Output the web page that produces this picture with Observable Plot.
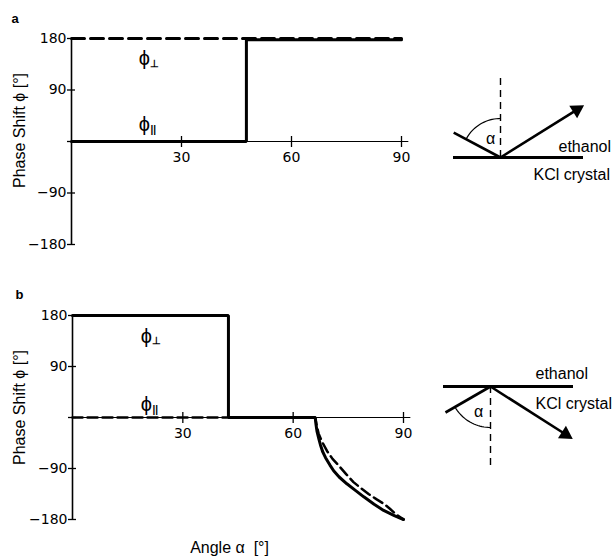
<!DOCTYPE html>
<html><head><meta charset="utf-8">
<script src="https://cdn.jsdelivr.net/npm/d3@7"></script>
<script src="https://cdn.jsdelivr.net/npm/@observablehq/plot@0.6"></script>
<style>
body{margin:0;background:#fff;}
#root{position:relative;width:612px;height:556px;overflow:hidden;background:#fff;}
#root svg{position:absolute;background:transparent;}
</style></head><body><div id="root"></div>
<script>
// ---------- data ----------
const xTicks = [30, 60, 90];
const yTicks = [180, 90, 0, -90, -180];
const yTickLabels = ["180", "90", "", "\u221290", "\u2212180"];

// panel a
const aPerpAlpha = [0, 90];
const aPerpPhi = [180, 180];
const aParAlpha = [0, 47.7, 47.7, 90];
const aParPhi = [0, 0, 178, 178];

// panel b
const bPerpAlpha = [0, 42.4, 42.4, 66.0, 66.2, 66.5, 67.0, 67.4, 68.0, 68.8, 70.0, 71.0, 72.5, 74.6, 77.0, 79.2, 82.0, 84.6, 87.5, 90];
const bPerpPhi   = [180, 180, 0, 0, -12, -25, -38, -48, -60, -71, -84, -94, -105, -117, -129, -140, -153, -164, -173, -180];
const bParAlpha  = [0, 66.0, 66.4, 66.9, 67.8, 69.2, 70.7, 72.4, 74.4, 76.4, 78.5, 80.5, 82.6, 84.6, 86.3, 87.8, 90];
const bParPhi    = [0, 0, -14, -28, -42, -59, -73, -85, -100, -114, -125, -135, -144, -152, -161, -170, -180];

// curve labels: [alpha, phi]
const labelNames = ["\u22A5", "||"];
const aLabelAlpha = [19.9, 19.9];
const aLabelPhi = [145, 30];
const bLabelAlpha = [20.1, 20.1];
const bLabelPhi = [143.5, 22.6];

const yTitle = "Phase Shift \u03D5 [\u00B0]";
const xTitle = "Angle \u03B1\u00A0 [\u00B0]";

// ---------- helpers ----------
const SANS = "'Liberation Sans', Arial, Helvetica, sans-serif";
const TICKF = "'DejaVu Sans', sans-serif";
const root = document.getElementById("root");

function axisMarks() {
  return [
    Plot.ruleY([0], {x1: 0, x2: 92, stroke: "#000", strokeWidth: 1}),
    Plot.ruleX([0], {y1: -180, y2: 180, stroke: "#000", strokeWidth: 1.6}),
    Plot.ruleY(yTicks, {y: d => d, x1: 0, x2: 0, insetLeft: -4, insetRight: -4, stroke: "#000", strokeWidth: 1.3}),
    Plot.ruleX(xTicks, {x: d => d, y1: 0, y2: 0, insetTop: -5, insetBottom: -6, stroke: "#000", strokeWidth: 1.3}),
    Plot.text(yTicks, {x: 0, y: d => d, text: (d, i) => yTickLabels[i], dx: -5, textAnchor: "end", fontFamily: TICKF, fontSize: 14, fill: "#000"}),
    Plot.text(xTicks, {x: d => d, y: 0, dy: 16, text: d => String(d), fontFamily: TICKF, fontSize: 14, fill: "#000"})
  ];
}
function curveLabels(al, ph) {
  return [
    Plot.text(al, {x: al, y: ph, text: () => "\u03D5", fontFamily: SANS, fontSize: 20, fill: "#000"}),
    Plot.text(al, {x: al, y: ph, text: (d, i) => labelNames[i], dx: 6, dy: 5, textAnchor: "start", fontFamily: SANS, fontWeight: "bold", fontSize: 10, letterSpacing: -0.5, fill: "#000"})
  ];
}
function place(svg, left, top) {
  svg.style.left = left + "px";
  svg.style.top = top + "px";
  root.appendChild(svg);
}

// ---------- panel a ----------
const pa = Plot.plot({
  width: 430, height: 270,
  marginTop: 38, marginBottom: 26, marginLeft: 71, marginRight: 29,
  x: {domain: [0, 90], axis: null},
  y: {domain: [-180, 180], axis: null},
  marks: [
    ...axisMarks(),
    Plot.line(aPerpAlpha, {x: aPerpAlpha, y: aPerpPhi, stroke: "#000", strokeWidth: 3, strokeDasharray: "13,6"}),
    Plot.line(aParAlpha, {x: aParAlpha, y: aParPhi, stroke: "#000", strokeWidth: 3, strokeLinejoin: "miter"}),
    ...curveLabels(aLabelAlpha, aLabelPhi),
    Plot.text([yTitle], {frameAnchor: "left", text: d => d, rotate: -90, textAnchor: "middle", lineAnchor: "middle", dx: -52, dy: -11, fontFamily: SANS, fontSize: 16, fill: "#000"}),
    Plot.text(["a"], {frameAnchor: "top-left", text: d => d, dx: -60, dy: -20, textAnchor: "start", lineAnchor: "middle", fontFamily: SANS, fontWeight: "bold", fontSize: 13, fill: "#000"})
  ]
});
place(pa, 0, 0);

// ---------- panel b ----------
const pb = Plot.plot({
  width: 430, height: 280,
  marginTop: 39, marginBottom: 37, marginLeft: 72, marginRight: 27,
  x: {domain: [0, 90], axis: null},
  y: {domain: [-180, 180], axis: null},
  marks: [
    ...axisMarks(),
    Plot.line(bParAlpha, {x: bParAlpha, y: bParPhi, stroke: "#000", strokeWidth: 2.5, strokeDasharray: "10,5"}),
    Plot.line(bPerpAlpha, {x: bPerpAlpha, y: bPerpPhi, stroke: "#000", strokeWidth: 3, strokeLinejoin: "miter"}),
    ...curveLabels(bLabelAlpha, bLabelPhi),
    Plot.text([yTitle], {frameAnchor: "left", text: d => d, rotate: -90, textAnchor: "middle", lineAnchor: "middle", dx: -53, dy: -10, fontFamily: SANS, fontSize: 16, fill: "#000"}),
    Plot.text([xTitle], {x: 42.7, frameAnchor: "bottom", text: d => d, textAnchor: "middle", lineAnchor: "middle", dy: 28, fontFamily: SANS, fontSize: 16, fill: "#000"}),
    Plot.text(["b"], {frameAnchor: "top-left", text: d => d, dx: -57, dy: -21, textAnchor: "start", lineAnchor: "middle", fontFamily: SANS, fontWeight: "bold", fontSize: 13, fill: "#000"})
  ]
});
place(pb, 0, 276);

// ---------- geometry sketches (pixel units, origin = point of incidence, y up) ----------
function sketch({W, H, ox, oy, surface, normal, inc, out, arcR, alphaAt, ethanolAt, kclAt}) {
  const rad = Math.PI / 180;
  const pt = (ang, r) => [r * Math.sin(ang * rad), r * Math.cos(ang * rad)];
  const incEnd = pt(inc[0], inc[1]);
  const outLine = pt(out[0], out[1] - 9);
  const head = pt(out[0], out[1] - 7);
  const arc = d3.range(0, 21).map(k => pt(inc[0] + (normal[2] - inc[0]) * k / 20, arcR));
  return Plot.plot({
    width: W, height: H, margin: 0,
    x: {domain: [-ox, W - ox], axis: null},
    y: {domain: [oy - H, oy], axis: null},
    marks: [
      Plot.ruleX([0], {y1: normal[0], y2: normal[1], stroke: "#000", strokeWidth: 1.4, strokeDasharray: "7,5"}),
      Plot.ruleY([0], {x1: surface[0], x2: surface[1], stroke: "#000", strokeWidth: 3}),
      Plot.link([0], {x1: incEnd[0], y1: incEnd[1], x2: 0, y2: 0, stroke: "#000", strokeWidth: 2.6}),
      Plot.link([0], {x1: 0, y1: 0, x2: outLine[0], y2: outLine[1], stroke: "#000", strokeWidth: 2.6}),
      Plot.dot([0], {x: head[0], y: head[1], symbol: "triangle", r: 5.5, rotate: out[0], fill: "#000", stroke: "none"}),
      Plot.line(arc, {x: d => d[0], y: d => d[1], stroke: "#000", strokeWidth: 1.2}),
      Plot.text(["\u03B1"], {x: alphaAt[0], y: alphaAt[1], text: d => d, fontFamily: SANS, fontSize: 16, fill: "#000"}),
      Plot.text(["ethanol"], {x: ethanolAt[0], y: ethanolAt[1], text: d => d, textAnchor: "start", fontFamily: SANS, fontSize: 16, fill: "#000"}),
      Plot.text(["KCl crystal"], {x: kclAt[0], y: kclAt[1], text: d => d, textAnchor: "start", fontFamily: SANS, fontSize: 16, fill: "#000"})
    ]
  });
}

place(sketch({W: 182, H: 140, ox: 70, oy: 97, surface: [-47, 83], normal: [0, 79, 0],
  inc: [-62, 53], out: [58, 97], arcR: 39, alphaAt: [-10, 19], ethanolAt: [58, 11], kclAt: [33, -17]}), 430, 60);

place(sketch({W: 182, H: 150, ox: 60, oy: 56, surface: [-47, 83], normal: [0, -81, 180],
  inc: [240, 52], out: [122.5, 96], arcR: 41, alphaAt: [-12, -25], ethanolAt: [45, 13], kclAt: [45, -17]}), 430, 330);
</script>
</body></html>
